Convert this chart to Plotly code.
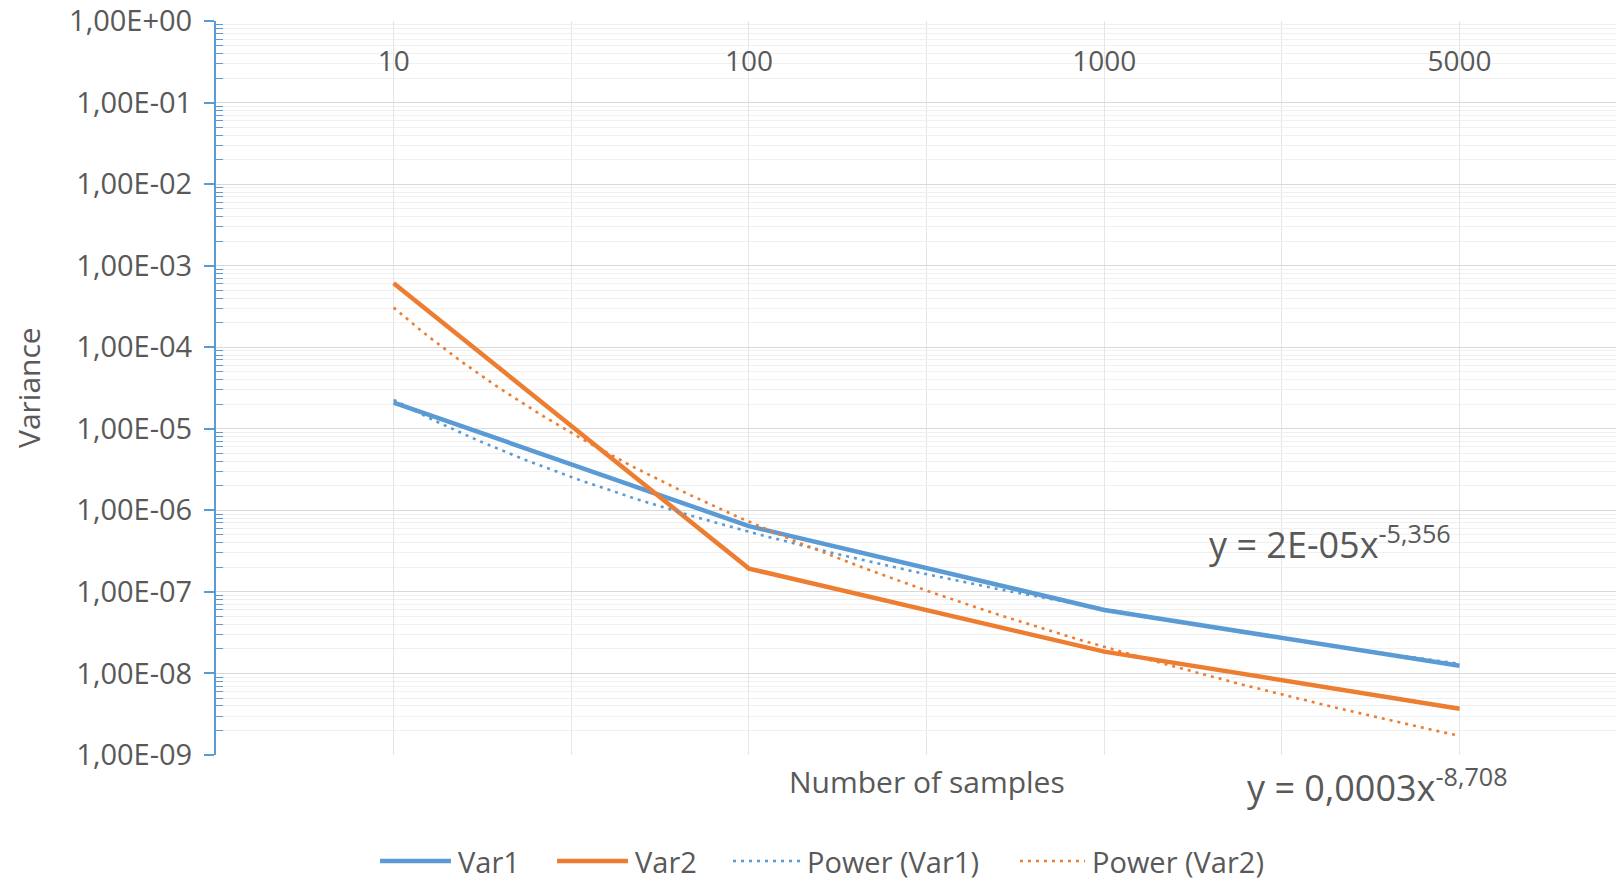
import numpy as np
import plotly.graph_objects as go

# ---- data ----
samples = ["10", "100", "1000", "5000"]
var1 = [2.1e-5, 6.4e-7, 6.0e-8, 1.24e-8]
var2 = [6.1e-4, 1.93e-7, 1.85e-8, 3.7e-9]
series_names = ["Var1", "Var2", "Power (Var1)", "Power (Var2)"]
eq1_coef, eq1_exp = "2E-05", "-5,356"
eq2_coef, eq2_exp = "0,0003", "-8,708"
y_exponents = list(range(0, -10, -1))

BLUE = "#5B9BD5"
ORANGE = "#ED7D31"
GRAY = "#595959"
FONT = "Open Sans"
DOT = "3px,5px"

# the page body adds an 8px margin; compensate so the chart lands where the reference has it
OFF = 8
W, H = 1624 - OFF, 880 - OFF
ML, MT = 216 - OFF, 21 - OFF
PLOT_BOTTOM = 755 - OFF
MB = H - PLOT_BOTTOM
PW, PH = W - ML, PLOT_BOTTOM - MT


def px_x(p):  # screen pixel -> paper x
    return (p - OFF - ML) / PW


def px_y(p):  # screen pixel -> paper y
    return (PLOT_BOTTOM - (p - OFF)) / PH


pos = np.arange(len(samples))


def power_fit(vals, n=200):
    """Excel-style power trendline fitted on category index 1..N."""
    k = np.arange(1, len(vals) + 1)
    b, loga = np.polyfit(np.log(k), np.log(vals), 1)
    kk = np.linspace(1, len(vals), n)
    return kk - 1, np.exp(loga) * kk ** b


styles = [dict(color=BLUE, width=4.5), dict(color=ORANGE, width=4.5),
          dict(color=BLUE, width=2.6, dash=DOT), dict(color=ORANGE, width=2.6, dash=DOT)]

fig = go.Figure()
fig.add_trace(go.Scatter(x=pos, y=var1, mode="lines", name=series_names[0], line=styles[0]))
fig.add_trace(go.Scatter(x=pos, y=var2, mode="lines", name=series_names[1], line=styles[1]))
tx1, ty1 = power_fit(var1)
tx2, ty2 = power_fit(var2)
fig.add_trace(go.Scatter(x=tx1, y=ty1, mode="lines", name=series_names[2], line=styles[2]))
fig.add_trace(go.Scatter(x=tx2, y=ty2, mode="lines", name=series_names[3], line=styles[3]))

major_vals = [10.0 ** e for e in y_exponents]
major_text = [f"1,00E{e:+03d}" for e in y_exponents]
minor_vals = [m * 10.0 ** e for e in range(-9, 0) for m in range(2, 10)]

# manual legend (Excel-like long line samples)
leg_y = px_y(861)
leg_lines = [(380, 451), (557, 628), (733, 800), (1020, 1085)]
shapes, annotations = [], []
for (x0, x1), name, st in zip(leg_lines, series_names, styles):
    shapes.append(dict(type="line", xref="paper", yref="paper",
                       x0=px_x(x0), x1=px_x(x1), y0=leg_y, y1=leg_y,
                       line=dict(color=st["color"], width=st["width"],
                                 dash=st.get("dash", "solid"))))
    annotations.append(dict(text=name, xref="paper", yref="paper",
                            x=px_x(x1 + 5), y=leg_y, xanchor="left", yanchor="middle",
                            showarrow=False, font=dict(size=29, color=GRAY)))

annotations += [
    dict(text="Variance", xref="paper", yref="paper", x=px_x(28), y=px_y(388),
         xanchor="center", yanchor="middle", textangle=-90, showarrow=False,
         font=dict(size=30, color=GRAY)),
    dict(text="Number of samples", x=1.5, xref="x", y=px_y(781), yref="paper",
         xanchor="center", yanchor="middle", showarrow=False,
         font=dict(size=30, color=GRAY)),
    dict(text=f"y = {eq1_coef}x<sup>{eq1_exp}</sup>", x=2.635, xref="x",
         y=px_y(542), yref="paper", xanchor="center", yanchor="middle",
         showarrow=False, font=dict(size=36, color=GRAY)),
    dict(text=f"y = {eq2_coef}x<sup>{eq2_exp}</sup>", x=2.77, xref="x",
         y=px_y(785), yref="paper", xanchor="center", yanchor="middle",
         showarrow=False, font=dict(size=36, color=GRAY)),
]

x_range = [-0.5, -0.5 + PW / 355.3]

fig.update_layout(
    width=W, height=H,
    margin=dict(l=ML, r=0, t=MT, b=MB, autoexpand=False),
    paper_bgcolor="white", plot_bgcolor="white",
    font=dict(family=FONT, color=GRAY, size=27),
    showlegend=False,
    xaxis=dict(
        range=x_range, automargin=False,
        anchor="free", position=px_y(42), side="bottom",
        tickmode="array", tickvals=pos, ticktext=samples,
        ticks="", ticklabelstandoff=0, ticklabeloverflow="allow",
        tickfont=dict(size=28, color=GRAY),
        showgrid=True, gridcolor="#e6e6e6", gridwidth=1,
        showline=False, zeroline=False,
        minor=dict(tickvals=[-0.5, 0.5, 1.5, 2.5, 3.5], showgrid=True,
                   gridcolor="#e6e6e6", ticks=""),
    ),
    xaxis2=dict(
        overlaying="x", matches="x", range=x_range, automargin=False,
        anchor="y", side="top",
        tickmode="array", tickvals=pos, ticktext=samples,
        showticklabels=False, ticks="outside", ticklen=7, tickcolor="#e0e0e0",
        showgrid=False, showline=True, linecolor="#d9d9d9", linewidth=1,
        zeroline=False,
    ),
    yaxis=dict(
        type="log", range=[-9, 0], automargin=False,
        tickmode="array", tickvals=major_vals, ticktext=major_text,
        ticks="outside", ticklen=10, tickcolor=BLUE, tickwidth=1.5,
        ticklabelstandoff=6, ticklabeloverflow="allow",
        tickfont=dict(size=29, color=GRAY),
        showline=True, linecolor=BLUE, linewidth=2,
        showgrid=True, gridcolor="#d9d9d9", gridwidth=1,
        minor=dict(tickvals=minor_vals, ticks="inside", ticklen=7,
                   tickcolor=BLUE, tickwidth=1, showgrid=True,
                   gridcolor="#f0f0f0"),
    ),
    shapes=shapes,
    annotations=annotations,
)

fig.write_html("out.html")
